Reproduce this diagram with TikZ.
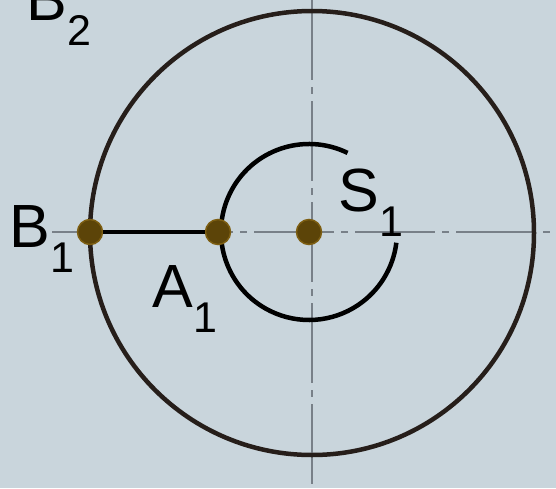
\documentclass[tikz,border=0pt]{standalone}
\usepackage{fontspec}
\setmainfont{Liberation Sans}
\definecolor{bgc}{RGB}{201,213,220}
\definecolor{axisc}{RGB}{120,128,136}
\definecolor{ringc}{RGB}{38,30,26}
\definecolor{dotfill}{RGB}{92,68,8}
\definecolor{dotedge}{RGB}{125,94,18}
\begin{document}
\begin{tikzpicture}[x=1pt,y=-1pt,
  axis/.style={draw=axisc,line width=1.5pt,dash pattern=on 80pt off 7pt on 7pt off 7pt},
  ring/.style={draw=ringc,line width=4.5pt},
  arcline/.style={draw=black,line width=4.5pt},
  dot/.style={circle,fill=dotfill,draw=dotedge,line width=1.5pt,minimum size=25pt,inner sep=0pt},
  lab/.style={font=\fontsize{61}{61}\selectfont,inner sep=0pt,anchor=base west}]
\newcommand{\subtxt}[1]{\kern0.5pt\raisebox{-25pt}{\fontsize{43}{43}\selectfont #1}}
\useasboundingbox (0,0) rectangle (556,488);
\fill[bgc] (0,0) rectangle (556,488);
% axes
\coordinate (vtop) at (312,0);
\coordinate (vbot) at (312,488);
\coordinate (hleft) at (52,232);
\coordinate (hright) at (556,232);
\draw[axis] (vtop) -- (vbot);
\draw[axis] (hleft) -- (hright);
% big circle
\coordinate (O) at (312,233);
\draw[ring] (O) circle[radius=222];
% small arc
\coordinate (C) at (309,232);
\draw[arcline] (C) ++(-64:88) arc[start angle=-64,end angle=-353,radius=88];
% dots
\node[dot] (B1) at (90,232) {};
\node[dot] (A1) at (218,232) {};
\node[dot] (S) at (309,232) {};
\draw[arcline] (B1) -- (A1);
% labels
\node[lab] (lB1) at (9,247) {B\subtxt{1}};
\node[lab] (lA1) at (152,307) {A\subtxt{1}};
\node[lab] (lS1) at (338,211) {S\subtxt{1}};
\node[lab] (lB2) at (26,20) {B\subtxt{2}};
\end{tikzpicture}
\end{document}
